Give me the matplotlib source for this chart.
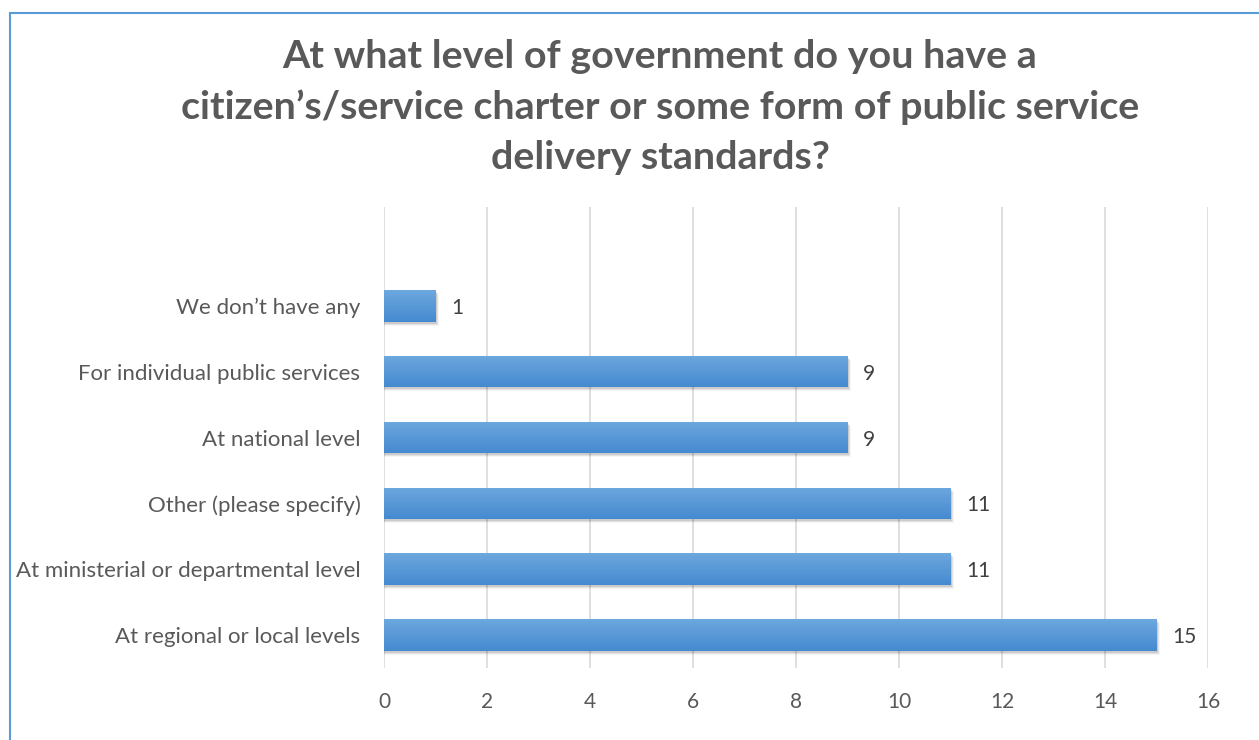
import numpy as np
import matplotlib.pyplot as plt
from matplotlib.patches import Rectangle
from matplotlib.colors import LinearSegmentedColormap

categories = [
    "At regional or local levels",
    "At ministerial or departmental level",
    "Other (please specify)",
    "At national level",
    "For individual public services",
    "We don\u2019t have any",
]
counts = [15, 11, 11, 9, 9, 1]
x_ticks = [0, 2, 4, 6, 8, 10, 12, 14, 16]

title = ("At what level of government do you have a\n"
         "citizen\u2019s/service charter or some form of public service\n"
         "delivery standards?")

plt.rcParams["font.family"] = ["Lato", "DejaVu Sans"]
text_grey = "#595959"

fig = plt.figure(figsize=(12.59, 7.40), dpi=100)
ax = fig.add_axes([384 / 1259, 1 - 668 / 740, 824 / 1259, 461 / 740])

ypos = np.arange(len(categories))
bar_h = 0.48

# soft drop shadow under each bar
for y, v in zip(ypos, counts):
    for k, a in enumerate([0.10, 0.07, 0.04]):
        ax.barh(y - 0.03 - 0.015 * k, v + 0.02 * (k + 1), height=bar_h,
                color="black", alpha=a, linewidth=0, zorder=2)

bars = ax.barh(ypos, counts, height=bar_h, color="#5b9bd5", linewidth=0, zorder=3)

# vertical gradient fill, lighter on top
grad = np.linspace(0, 1, 64).reshape(-1, 1)
cmap = LinearSegmentedColormap.from_list("bar", ["#4589d0", "#6da8de"])
for b in bars:
    x0, y0 = b.get_x(), b.get_y()
    w, h = b.get_width(), b.get_height()
    im = ax.imshow(grad, extent=[x0, x0 + w, y0, y0 + h], origin="lower",
                   aspect="auto", cmap=cmap, zorder=4)
    im.set_clip_path(b)

for y, v in zip(ypos, counts):
    ax.annotate(str(v), (v, y), xytext=(11, 0), textcoords="offset points",
                va="center_baseline", ha="left", fontsize=15, color="#404040")

ax.set_xlim(0, 16)
ax.set_ylim(-0.5, 6.5)
ax.set_xticks(x_ticks)
ax.set_yticks(ypos)
ax.set_yticklabels(categories, fontsize=16)
ax.xaxis.grid(True, color="#d9d9d9", linewidth=1.2, zorder=0)
ax.set_axisbelow(True)
for s in ax.spines.values():
    s.set_visible(False)
ax.tick_params(axis="both", length=0, colors=text_grey)
ax.tick_params(axis="x", pad=17, labelsize=15)
ax.tick_params(axis="y", pad=17)

fig.text(660 / 1259, 1 - 107 / 740, title, ha="center", va="center", fontsize=28.4,
         fontweight="bold", color=text_grey, linespacing=1.52)

# chart frame
fig.patches.append(Rectangle((10 / 1259, -0.05), 1.1, 1 - 13 / 740 + 0.05,
                             transform=fig.transFigure, fill=False,
                             edgecolor="#5b9bd5", linewidth=1.5))

fig.savefig("out.png", dpi=100)
